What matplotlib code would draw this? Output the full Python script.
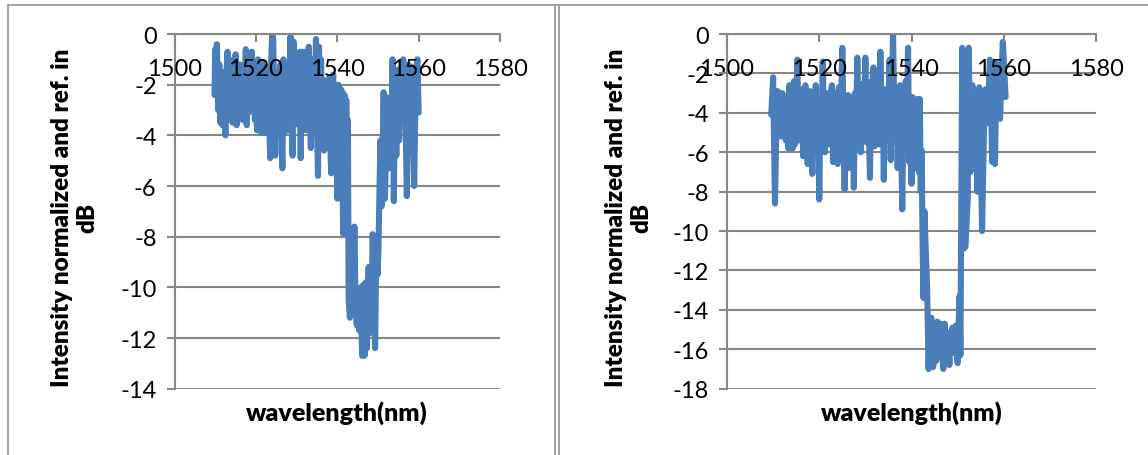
import matplotlib
matplotlib.use('Agg')
import matplotlib.pyplot as plt
from matplotlib.lines import Line2D

W, H = 1148, 456
BLUE = '#4a7ebb'
GREY = '#868686'

xticks = [1500, 1520, 1540, 1560, 1580]
yticks_left = [0, -2, -4, -6, -8, -10, -12, -14]
yticks_right = [0, -2, -4, -6, -8, -10, -12, -14, -16, -18]

wave_left = [
    1509.8, 1510.0, 1510.2, 1510.4, 1510.7,
    1511.0, 1511.25, 1511.5, 1511.75, 1512.0, 1512.25, 1512.5, 1512.75,
    1513.0, 1513.25, 1513.5, 1513.75, 1514.0, 1514.25, 1514.5, 1514.75,
    1515.0, 1515.25, 1515.5, 1515.75, 1516.0, 1516.25, 1516.5, 1516.75,
    1517.0, 1517.25, 1517.5, 1517.75, 1518.0, 1518.25, 1518.5, 1518.75,
    1519.0, 1519.25, 1519.5, 1519.75, 1520.0, 1520.25, 1520.5, 1520.75,
    1521.0, 1521.25, 1521.5, 1521.75, 1522.0, 1522.25, 1522.5, 1522.75,
    1523.0, 1523.25, 1523.5, 1523.75, 1524.0, 1524.25, 1524.5, 1524.75,
    1525.0, 1525.25, 1525.5, 1525.75, 1526.0, 1526.25, 1526.5, 1526.75,
    1527.0, 1527.25, 1527.5, 1527.75,
    1528.0, 1528.25, 1528.5, 1528.75, 1529.0, 1529.25, 1529.5, 1529.75,
    1530.0, 1530.25, 1530.5, 1530.75, 1531.0, 1531.25, 1531.5, 1531.75,
    1532.0, 1532.25, 1532.5, 1532.75, 1533.0, 1533.25, 1533.5, 1533.75,
    1534.0, 1534.25, 1534.5, 1534.75, 1535.0, 1535.25, 1535.5, 1535.75,
    1536.0, 1536.25, 1536.5, 1536.75, 1537.0, 1537.25, 1537.5, 1537.75,
    1538.0, 1538.25, 1538.5, 1538.75, 1539.0, 1539.25, 1539.5, 1539.75,
    1540.0, 1540.25, 1540.5, 1540.75, 1541.0, 1541.25, 1541.5, 1541.75,
    1542.0, 1542.2, 1542.4, 1542.6, 1542.8, 1543.1, 1543.5,
    1543.9, 1544.2, 1544.5, 1544.8, 1545.1, 1545.4, 1545.7, 1546.1, 1546.4, 1546.7,
    1547.0, 1547.3, 1547.7, 1548.0, 1548.4, 1548.7, 1549.1, 1549.3, 1549.6, 1549.9,
    1550.1, 1550.4, 1550.6, 1550.9, 1551.4, 1551.7, 1552.0, 1552.3, 1552.7, 1553.2,
    1553.6, 1553.9, 1554.2, 1554.5, 1554.9, 1555.2, 1555.6, 1555.9, 1556.2, 1556.7,
    1557.1, 1557.5, 1557.9, 1558.3, 1558.9, 1559.3, 1559.7, 1560.0,
]
loss_left = [
    -2.4, -0.6, -2.2, -0.4, -3.0,
    -1.2, -3.5, -1.8, -3.6, -1.5, -3.0, -4.0, -1.6,
    -0.7, -3.4, -1.0, -3.2, -1.4, -3.5, -1.9, -3.0,
    -0.8, -3.6, -1.5, -3.2, -1.2, -3.0, -1.8, -3.4,
    -1.6, -3.4, -0.6, -3.6, -1.0, -3.1, -1.6, -3.0,
    -0.7, -3.0, -1.4, -3.4, -1.2, -3.8, -1.0, -3.2,
    -1.5, -3.9, -1.1, -3.4, -1.7, -3.9, -1.3, -3.2,
    -1.8, -3.4, -4.9, -1.0, 0.0, -0.2, -3.0, -4.8,
    -1.5, -3.5, -1.9, -3.0, -1.2, -3.6, -5.3, -1.0,
    -3.9, -1.2, -3.0, -1.6,
    -3.8, -1.6, -0.1, -3.0, -4.8, -0.3, -3.4, -1.5,
    -3.2, -1.8, -3.6, -0.7, -4.9, -0.7, -3.6, -1.4,
    -0.7, -3.8, -1.5, -3.2, -0.5, -3.0, -4.5, -1.0,
    -3.4, -1.6, -3.0, -0.2, -3.6, -5.6, -0.5, -3.5,
    -1.0, -3.2, -1.8, -4.6, -2.0, -3.6, -4.5, -2.2,
    -1.7, -4.2, -5.5, -2.0, -1.6, -5.4, -2.2, -4.0,
    -6.5, -2.0, -5.0, -6.4, -2.2, -6.0, -7.9, -2.4,
    -7.8, -2.6, -6.0, -3.4, -10.5, -11.2, -9.0,
    -10.6, -7.6, -10.8, -11.5, -10.2, -11.7, -10.0, -12.7, -9.9, -12.7,
    -9.8, -12.4, -9.2, -11.8, -11.0, -7.9, -11.0, -12.4, -8.0, -9.5,
    -8.6, -6.0, -4.2, -6.8, -2.3, -6.5, -4.5, -2.5, -5.3, -5.0,
    -1.0, -6.6, -1.5, -4.8, -1.4, -4.2, -1.6, -3.4, -1.0, -2.5,
    -6.4, -1.2, -3.0, -1.3, -6.0, -1.6, -1.0, -3.1,
]

wave_right = [
    1509.6, 1510.0, 1510.4, 1510.8,
    1511.0, 1511.25, 1511.5, 1511.75, 1512.0, 1512.25, 1512.5, 1512.75,
    1513.0, 1513.25, 1513.5, 1513.75, 1514.0, 1514.25, 1514.5, 1514.75,
    1515.0, 1515.25, 1515.5, 1515.75, 1516.0, 1516.25, 1516.5, 1516.75,
    1517.0, 1517.25, 1517.5, 1517.75, 1518.0, 1518.25, 1518.5, 1518.75,
    1519.0, 1519.25, 1519.5, 1519.75, 1520.0, 1520.25, 1520.5, 1520.75,
    1521.0, 1521.25, 1521.5, 1521.75, 1522.0, 1522.25, 1522.5, 1522.75,
    1523.0, 1523.25, 1523.5, 1523.75, 1524.0, 1524.25, 1524.5, 1524.75,
    1525.0, 1525.25, 1525.5, 1525.75, 1526.0, 1526.25, 1526.5, 1526.75,
    1527.0, 1527.25, 1527.5, 1527.75, 1528.0, 1528.25, 1528.5, 1528.75,
    1529.0, 1529.25, 1529.5, 1529.75, 1530.0, 1530.25, 1530.5, 1530.75,
    1531.0, 1531.25, 1531.5, 1531.75, 1532.0, 1532.25, 1532.5, 1532.75,
    1533.0, 1533.25, 1533.5, 1533.75, 1534.0, 1534.25, 1534.5, 1534.75,
    1535.0, 1535.25, 1535.5, 1535.75, 1536.0, 1536.25, 1536.5, 1536.75,
    1537.0, 1537.25, 1537.5, 1537.75, 1538.0, 1538.25, 1538.5, 1538.75,
    1539.0, 1539.25, 1539.5, 1539.75, 1540.0, 1540.25, 1540.5, 1540.75,
    1541.0, 1541.3, 1541.6, 1541.8, 1542.0, 1542.2, 1542.4, 1542.6, 1542.8, 1543.1, 1543.4,
    1543.7, 1544.0, 1544.3, 1544.7, 1545.0, 1545.3, 1545.6, 1546.0, 1546.3, 1546.6,
    1546.9, 1547.2, 1547.5, 1547.9, 1548.2, 1548.5, 1548.9, 1549.2, 1549.6, 1550.0,
    1550.4, 1550.6, 1551.0, 1551.3, 1551.7, 1552.2, 1552.4, 1552.8, 1553.2, 1553.6,
    1554.0, 1554.3, 1554.7, 1555.0, 1555.3, 1555.7, 1556.1, 1556.5, 1557.0, 1557.5,
    1557.8, 1558.1, 1558.4, 1558.8, 1559.2, 1559.8, 1560.4,
]
loss_right = [
    -4.1, -2.2, -8.6, -3.5,
    -2.9, -4.5, -3.2, -5.2, -3.0, -4.8, -3.3, -5.4,
    -3.8, -5.8, -2.6, -5.8, -3.4, -5.8, -2.4, -5.6,
    -3.6, -1.3, -5.4, -3.0, -4.8, -2.8, -6.2, -3.2,
    -2.6, -5.0, -6.6, -3.4, -2.9, -5.5, -7.1, -3.2,
    -4.8, -2.6, -6.0, -3.4, -8.4, -3.8, -5.0, -1.4,
    -4.5, -6.0, -3.0, -5.0, -3.4, -5.6, -3.0, -2.6,
    -6.5, -3.6, -5.5, -3.0, -6.6, -2.7, -5.4, -3.3,
    -0.7, -4.4, -7.9, -3.4, -5.6, -3.1, -6.8, -3.6,
    -5.4, -3.2, -7.8, -3.0, -5.0, -1.2, -4.5, -2.8,
    -6.0, -3.4, -2.5, -5.0, -1.2, -5.5, -3.0, -5.0,
    -7.3, -2.4, -5.2, -1.7, -5.7, -3.0, -4.8, -2.4,
    -5.6, -0.9, -4.6, -3.0, -7.4, -2.8, -5.4, -3.0,
    -5.0, -1.3, -6.4, -3.4, 0.0, -3.5, -5.0, -2.8,
    -6.8, -4.0, -2.6, -5.4, -8.9, -3.5, -5.5, -2.4,
    -4.8, -0.7, -6.5, -4.0, -7.6, -3.2, -6.0, -3.4,
    -6.8, -3.3, -7.0, -3.3, -8.0, -5.9, -10.5, -13.4, -9.0, -11.0, -13.0,
    -17.0, -14.8, -14.4, -16.9, -15.3, -16.6, -14.6, -16.4, -14.7, -16.2,
    -17.0, -14.7, -16.5, -15.2, -16.8, -15.2, -14.9, -16.2, -14.8, -16.7,
    -13.3, -16.3, -0.7, -10.9, -10.8, -8.3, -0.7, -7.0, -2.6, -6.5,
    -3.0, -8.0, -2.7, -6.0, -10.0, -5.0, -2.8, -4.5, -1.3, -6.5,
    -2.6, -6.6, -1.5, -3.5, -4.3, -0.4, -3.2,
]

ylabel_text = 'Intensity normalized and ref. in\ndB'


def draw_panel(fig, left, right, wave, loss, yticks, ylabel_x):
    top, bottom = 35, 389.7
    ax = fig.add_axes([left / W, 1 - bottom / H, (right - left) / W, (bottom - top) / H])
    ax.set_xlim(1500, 1580)
    ax.set_ylim(yticks[-1], 0)
    ax.set_axisbelow(False)
    ax.patch.set_visible(False)

    for y in yticks:
        ax.axhline(y, color=GREY, lw=1.5, zorder=1)
    ax.plot(wave, loss, color=BLUE, lw=4.4, solid_joinstyle='round', solid_capstyle='round', zorder=2)

    # x axis crosses at zero, like the spreadsheet default
    ax.spines['bottom'].set_position(('data', 0))
    ax.spines['top'].set_visible(False)
    ax.spines['right'].set_visible(False)
    for name in ['left', 'bottom']:
        ax.spines[name].set_color(GREY)
        ax.spines[name].set_linewidth(1.5)

    ax.set_xticks(xticks)
    ax.set_yticks(yticks)
    ax.set_yticklabels([str(y) for y in yticks])
    ax.tick_params(axis='x', direction='out', length=6, width=1.5, color=GREY, pad=11, labelsize=17)
    ax.tick_params(axis='y', direction='out', length=6, width=1.5, color=GREY, pad=7, labelsize=17)

    ax.set_xlabel('wavelength(nm)', fontweight='heavy', fontsize=18, va='center')
    ax.xaxis.set_label_coords(0.5, -(413 - bottom) / (bottom - top))
    ax.set_ylabel(ylabel_text, fontweight='heavy', fontsize=17.5, va='center', linespacing=1.2)
    ax.yaxis.set_label_coords((ylabel_x - left) / (right - left), 0.485)
    return ax


plt.rcParams['font.family'] = ['Lato', 'DejaVu Sans']
fig = plt.figure(figsize=(W / 100, H / 100), dpi=100)
fig.patch.set_facecolor('white')

draw_panel(fig, 174.6, 500, wave_left, loss_left, yticks_left, 75)
draw_panel(fig, 727, 1096, wave_right, loss_right, yticks_right, 629)

# table cell borders around the two charts
frame = [
    ([8, 8], [456, 6]), ([8, 1148], [6, 6]), ([555, 555], [456, 6]),
    ([559, 559], [456, 6]),
]
for xs, ys in frame:
    fig.add_artist(Line2D([x / W for x in xs], [1 - y / H for y in ys], color='#9a9a9a', lw=1.3))

fig.savefig('out.png', dpi=100)
